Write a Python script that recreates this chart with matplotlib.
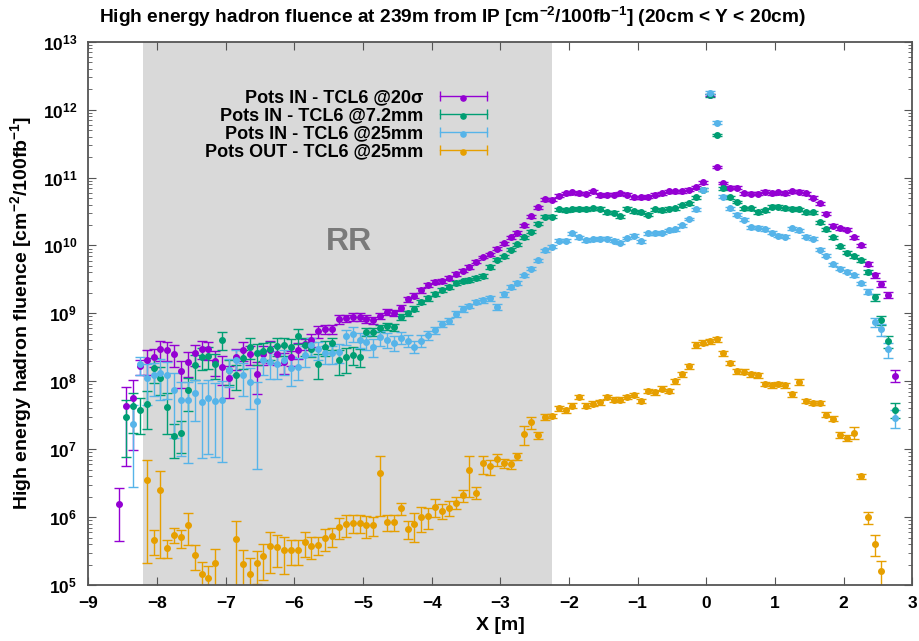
import numpy as np
import matplotlib.pyplot as plt
from matplotlib.lines import Line2D
from matplotlib.legend_handler import HandlerTuple

plt.rcParams['font.family'] = ['Liberation Sans', 'DejaVu Sans']
plt.rcParams['mathtext.default'] = 'regular'

nan = np.nan

# bin centres, 0.1 m wide bins from -8.6 m to 2.8 m
x_bins = np.arange(-8.55, 2.76, 0.1)

# log10 of the fluence (one value per bin)
log_in_20sigma = [
    6.20, 7.64, 7.76, 8.22, 8.32, 8.36, 8.47, 8.46, 8.40, 8.15,
    8.28, 8.41, 8.48, 8.47, 8.30, 8.21, 8.05, 8.35, 8.46, 8.40,
    8.11, 8.40, 8.46, 8.40, 8.29, 8.35, 8.46, 8.55, 8.61, 8.74,
    8.77, 8.77, 8.91, 8.93, 8.95, 8.95, 8.92, 8.90, 8.96, 9.02,
    9.01, 9.08, 9.21, 9.26, 9.34, 9.42, 9.46, 9.48, 9.52, 9.58,
    9.63, 9.68, 9.76, 9.83, 9.87, 9.95, 10.03, 10.12, 10.19, 10.30,
    10.43, 10.56, 10.68, 10.67, 10.73, 10.77, 10.78, 10.77, 10.76, 10.80,
    10.74, 10.75, 10.75, 10.77, 10.75, 10.71, 10.71, 10.72, 10.75, 10.77,
    10.80, 10.80, 10.80, 10.82, 10.86, 10.93, 12.22, 11.16, 10.92, 10.85,
    10.85, 10.77, 10.76, 10.76, 10.79, 10.77, 10.78, 10.77, 10.80, 10.79,
    10.77, 10.70, 10.62, 10.47, 10.29, 10.25, 10.23, 10.12, 10.00, 9.73,
    9.56, 9.43, 9.27, 8.08]
log_in_72mm = [
    nan, 7.48, 7.63, 7.57, 7.66, 8.20, 8.05, 7.62, 7.19, 7.24,
    7.87, 8.24, 8.36, 8.37, 8.26, 8.61, 8.17, 8.09, 8.34, 8.51,
    8.42, 8.45, 8.47, 8.52, 8.53, 8.51, 8.67, 8.53, 8.48, 8.26,
    8.50, 8.56, 8.31, 8.35, 8.39, 8.36, 8.73, 8.73, 8.78, 8.81,
    8.80, 8.95, 9.00, 9.07, 9.17, 9.22, 9.28, 9.35, 9.39, 9.45,
    9.47, 9.49, 9.52, 9.55, 9.68, 9.79, 9.84, 9.94, 10.02, 10.12,
    10.20, 10.32, 10.42, 10.42, 10.53, 10.52, 10.53, 10.54, 10.53, 10.55,
    10.54, 10.49, 10.48, 10.43, 10.54, 10.50, 10.49, 10.45, 10.53, 10.52,
    10.54, 10.55, 10.59, 10.62, 10.71, 10.82, 12.21, 11.63, 10.84, 10.71,
    10.64, 10.55, 10.55, 10.49, 10.52, 10.57, 10.57, 10.55, 10.54, 10.53,
    10.49, 10.49, 10.34, 10.24, 10.12, 9.99, 9.89, 9.84, 9.78, 9.61,
    9.24, 8.90, 8.59, 7.58]
log_in_25mm = [
    nan, nan, 7.37, 8.25, 8.05, 8.09, 8.12, 8.09, 7.87, 7.72,
    7.72, 7.82, 7.70, 7.75, 7.71, 7.73, 8.17, 8.31, 8.09, 7.99,
    7.71, 8.31, 8.29, 8.26, 8.31, 8.19, 8.21, 8.39, 8.53, 8.47,
    8.41, 8.41, 8.43, 8.66, 8.70, 8.61, 8.58, 8.51, 8.65, 8.61,
    8.57, 8.64, 8.60, 8.51, 8.60, 8.68, 8.75, 8.84, 8.89, 8.99,
    9.06, 9.11, 9.17, 9.19, 9.22, 9.10, 9.28, 9.39, 9.45, 9.56,
    9.66, 9.78, 9.93, 9.98, 10.07, 10.07, 10.18, 10.12, 10.08, 10.09,
    10.10, 10.10, 10.07, 10.04, 10.11, 10.14, 10.06, 10.18, 10.18, 10.19,
    10.22, 10.24, 10.30, 10.39, 10.53, 10.82, 12.25, 11.81, 10.72, 10.55,
    10.45, 10.38, 10.27, 10.26, 10.24, 10.19, 10.14, 10.13, 10.25, 10.22,
    10.13, 10.10, 9.94, 9.85, 9.72, 9.66, 9.61, 9.56, 9.44, 9.32,
    8.87, 8.77, 8.47, 7.46]
log_out_25mm = [
    nan, nan, nan, nan, 6.55, 5.66, 6.40, 5.55, 5.74, 5.70,
    5.89, 5.44, 5.16, 5.10, 5.32, nan, nan, 5.67, 5.31, 5.16,
    5.32, 5.42, 5.57, 5.56, 5.51, 5.51, 5.51, 5.64, 5.57, 5.59,
    5.69, 5.72, 5.86, 5.90, 5.92, 5.92, 5.88, 5.88, 6.65, 5.93,
    5.93, 6.13, 5.83, 5.90, 6.00, 6.01, 6.15, 6.09, 6.14, 6.21,
    6.32, 6.70, 6.36, 6.79, 6.75, 6.85, 6.80, 6.78, 6.90, 7.22,
    7.40, 7.21, 7.48, 7.49, 7.60, 7.57, 7.64, 7.77, 7.64, 7.67,
    7.69, 7.77, 7.73, 7.73, 7.77, 7.80, 7.71, 7.86, 7.84, 7.89,
    7.86, 8.00, 8.10, 8.22, 8.53, 8.57, 8.59, 8.62, 8.41, 8.27,
    8.15, 8.14, 8.10, 8.09, 7.96, 7.94, 7.96, 7.94, 7.81, 7.99,
    7.71, 7.68, 7.68, 7.51, 7.45, 7.21, 7.16, 7.24, 6.60, 6.00,
    5.61, 5.20, nan, nan]

# relative statistical errors (dy / y)
err_in_20sigma = [
    0.72, 0.87, 0.83, 0.25, 0.40, 0.30, 0.33, 0.30, 0.35, 0.43,
    0.40, 0.35, 0.30, 0.30, 0.40, 0.45, 0.50, 0.35, 0.30, 0.30,
    0.50, 0.30, 0.35, 0.30, 0.35, 0.25, 0.25, 0.20, 0.22, 0.20,
    0.15, 0.15, 0.15, 0.12, 0.12, 0.12, 0.12, 0.12, 0.10, 0.10,
    0.10, 0.10, 0.08, 0.08, 0.08, 0.07, 0.07, 0.07, 0.06, 0.06,
    0.06, 0.06, 0.05, 0.05, 0.05, 0.05, 0.05, 0.05, 0.05, 0.05,
    0.05, 0.05, 0.05, 0.05, 0.05, 0.05, 0.05, 0.05, 0.05, 0.05,
    0.05, 0.05, 0.05, 0.05, 0.05, 0.05, 0.05, 0.05, 0.05, 0.05,
    0.05, 0.05, 0.05, 0.05, 0.05, 0.05, 0.04, 0.04, 0.05, 0.05,
    0.05, 0.05, 0.05, 0.05, 0.05, 0.05, 0.05, 0.05, 0.05, 0.05,
    0.05, 0.05, 0.05, 0.05, 0.05, 0.05, 0.05, 0.05, 0.06, 0.07,
    0.08, 0.10, 0.10, 0.20]
err_in_72mm = [
    nan, 0.75, 0.60, 0.55, 0.57, 0.40, 0.45, 0.60, 0.52, 0.50,
    0.50, 0.40, 0.35, 0.35, 0.40, 0.30, 0.40, 0.40, 0.30, 0.35,
    0.35, 0.30, 0.30, 0.30, 0.30, 0.30, 0.25, 0.30, 0.25, 0.40,
    0.25, 0.20, 0.40, 0.40, 0.30, 0.30, 0.15, 0.15, 0.12, 0.12,
    0.12, 0.10, 0.10, 0.08, 0.08, 0.08, 0.07, 0.07, 0.07, 0.06,
    0.06, 0.06, 0.06, 0.06, 0.06, 0.05, 0.05, 0.05, 0.05, 0.05,
    0.05, 0.05, 0.05, 0.05, 0.05, 0.05, 0.05, 0.05, 0.05, 0.05,
    0.05, 0.05, 0.05, 0.05, 0.05, 0.05, 0.05, 0.05, 0.05, 0.05,
    0.05, 0.05, 0.05, 0.05, 0.05, 0.05, 0.04, 0.04, 0.05, 0.05,
    0.05, 0.05, 0.05, 0.05, 0.05, 0.05, 0.05, 0.05, 0.05, 0.05,
    0.05, 0.05, 0.05, 0.05, 0.05, 0.05, 0.05, 0.05, 0.06, 0.08,
    0.12, 0.15, 0.20, 0.25]
err_in_25mm = [
    nan, nan, 0.88, 0.30, 0.60, 0.50, 0.60, 0.55, 0.80, 0.85,
    0.88, 0.60, 0.85, 0.85, 0.85, 0.88, 0.45, 0.40, 0.50, 0.60,
    0.90, 0.40, 0.45, 0.40, 0.40, 0.45, 0.35, 0.35, 0.30, 0.30,
    0.30, 0.30, 0.30, 0.25, 0.25, 0.25, 0.25, 0.30, 0.25, 0.25,
    0.25, 0.20, 0.20, 0.20, 0.20, 0.15, 0.12, 0.10, 0.10, 0.10,
    0.10, 0.08, 0.08, 0.08, 0.08, 0.10, 0.08, 0.07, 0.07, 0.06,
    0.06, 0.06, 0.05, 0.05, 0.05, 0.05, 0.05, 0.05, 0.05, 0.05,
    0.05, 0.05, 0.05, 0.05, 0.05, 0.05, 0.05, 0.05, 0.05, 0.05,
    0.05, 0.05, 0.05, 0.05, 0.05, 0.05, 0.04, 0.04, 0.05, 0.05,
    0.05, 0.05, 0.05, 0.05, 0.05, 0.05, 0.05, 0.05, 0.05, 0.05,
    0.05, 0.05, 0.05, 0.05, 0.05, 0.05, 0.05, 0.05, 0.06, 0.08,
    0.15, 0.20, 0.25, 0.30]
err_out_25mm = [
    nan, nan, nan, nan, 0.94, 0.40, 0.90, 0.30, 0.25, 0.30,
    0.50, 0.40, 0.50, 0.50, 0.60, nan, nan, 0.90, 0.60, 0.70,
    0.50, 0.55, 0.60, 0.50, 0.55, 0.40, 0.40, 0.40, 0.35, 0.30,
    0.35, 0.30, 0.35, 0.35, 0.30, 0.30, 0.35, 0.30, 0.77, 0.27,
    0.27, 0.20, 0.30, 0.45, 0.40, 0.35, 0.30, 0.25, 0.25, 0.20,
    0.20, 0.60, 0.20, 0.30, 0.25, 0.20, 0.15, 0.15, 0.12, 0.30,
    0.20, 0.12, 0.10, 0.08, 0.08, 0.08, 0.08, 0.08, 0.08, 0.08,
    0.08, 0.08, 0.08, 0.08, 0.08, 0.08, 0.08, 0.08, 0.08, 0.08,
    0.08, 0.08, 0.08, 0.08, 0.10, 0.08, 0.08, 0.08, 0.08, 0.08,
    0.08, 0.08, 0.08, 0.08, 0.08, 0.08, 0.08, 0.08, 0.08, 0.10,
    0.08, 0.08, 0.08, 0.08, 0.08, 0.10, 0.10, 0.20, 0.10, 0.20,
    0.35, 0.40, nan, nan]

labels = ['Pots IN - TCL6 @20σ', 'Pots IN - TCL6 @7.2mm',
          'Pots IN - TCL6 @25mm', 'Pots OUT - TCL6 @25mm']
colors = ['#9400d3', '#009e73', '#56b4e9', '#e69f00']
series_logs = [log_in_20sigma, log_in_72mm, log_in_25mm, log_out_25mm]
series_errs = [err_in_20sigma, err_in_72mm, err_in_25mm, err_out_25mm]

# roman-pot region (RR)
rr_span = (-8.2, -2.24)

fig = plt.figure(figsize=(9.2, 6.41), dpi=100)
ax = fig.add_axes([88.3 / 920, 1 - 585 / 641, 824 / 920, 543.3 / 641])

ax.axvspan(rr_span[0], rr_span[1], color='#d9d9d9', lw=0, zorder=0)
ax.text(-5.21, 10**10.05, 'RR', color='#7a7a7a', fontsize=23,
        fontweight='bold', ha='center', va='center')

handles = []
for logs, errs, col in zip(series_logs, series_errs, colors):
    y = 10**np.array(logs)
    yerr = y * np.array(errs)
    ax.errorbar(x_bins, y, yerr=yerr, fmt='o', ms=4, color=col,
                ecolor=col, elinewidth=1, capsize=3.5, capthick=1, zorder=2)
    cap_line = Line2D([], [], color=col, lw=1, marker='|', ms=7, mew=1)
    dot = ax.scatter([], [], color=col, s=14)
    handles.append((cap_line, dot))

ax.set_yscale('log')
ax.set_xlim(-9, 3)
ax.set_ylim(1e5, 1e13)
ax.set_xticks(range(-9, 4))
ax.set_yticks([10.0**k for k in range(5, 14)])

for side in ax.spines.values():
    side.set_color('#555555')
    side.set_linewidth(1.3)
ax.tick_params(which='both', direction='in', top=True, right=True,
               color='#555555', labelsize=12.5)
ax.tick_params(which='major', length=6, pad=8)
ax.tick_params(which='minor', length=3)
for lab in ax.get_xticklabels() + ax.get_yticklabels():
    lab.set_fontweight('bold')

ax.legend(handles, labels, loc='upper right', bbox_to_anchor=(0.49, 0.912),
          frameon=False, markerfirst=False, handlelength=3.2,
          handletextpad=0.6, labelspacing=0.06, borderpad=0,
          borderaxespad=0, numpoints=2, scatterpoints=1,
          handler_map={tuple: HandlerTuple()},
          prop={'weight': 'bold', 'size': 13})

fig.text(452 / 920, 1 - 17 / 641,
         'High energy hadron fluence at 239m from IP [cm$^{-2}$/100fb$^{-1}$] (20cm < Y < 20cm)',
         ha='center', va='center', fontsize=13.8, fontweight='bold')
ax.set_xlabel('X [m]', fontsize=14, fontweight='bold')
ax.xaxis.set_label_coords(0.5, -0.058)
ax.set_ylabel('High energy hadron fluence [cm$^{-2}$/100fb$^{-1}$]',
              fontsize=14, fontweight='bold')
ax.yaxis.set_label_coords(-0.066, 0.5)

fig.savefig('out.png', dpi=100)
